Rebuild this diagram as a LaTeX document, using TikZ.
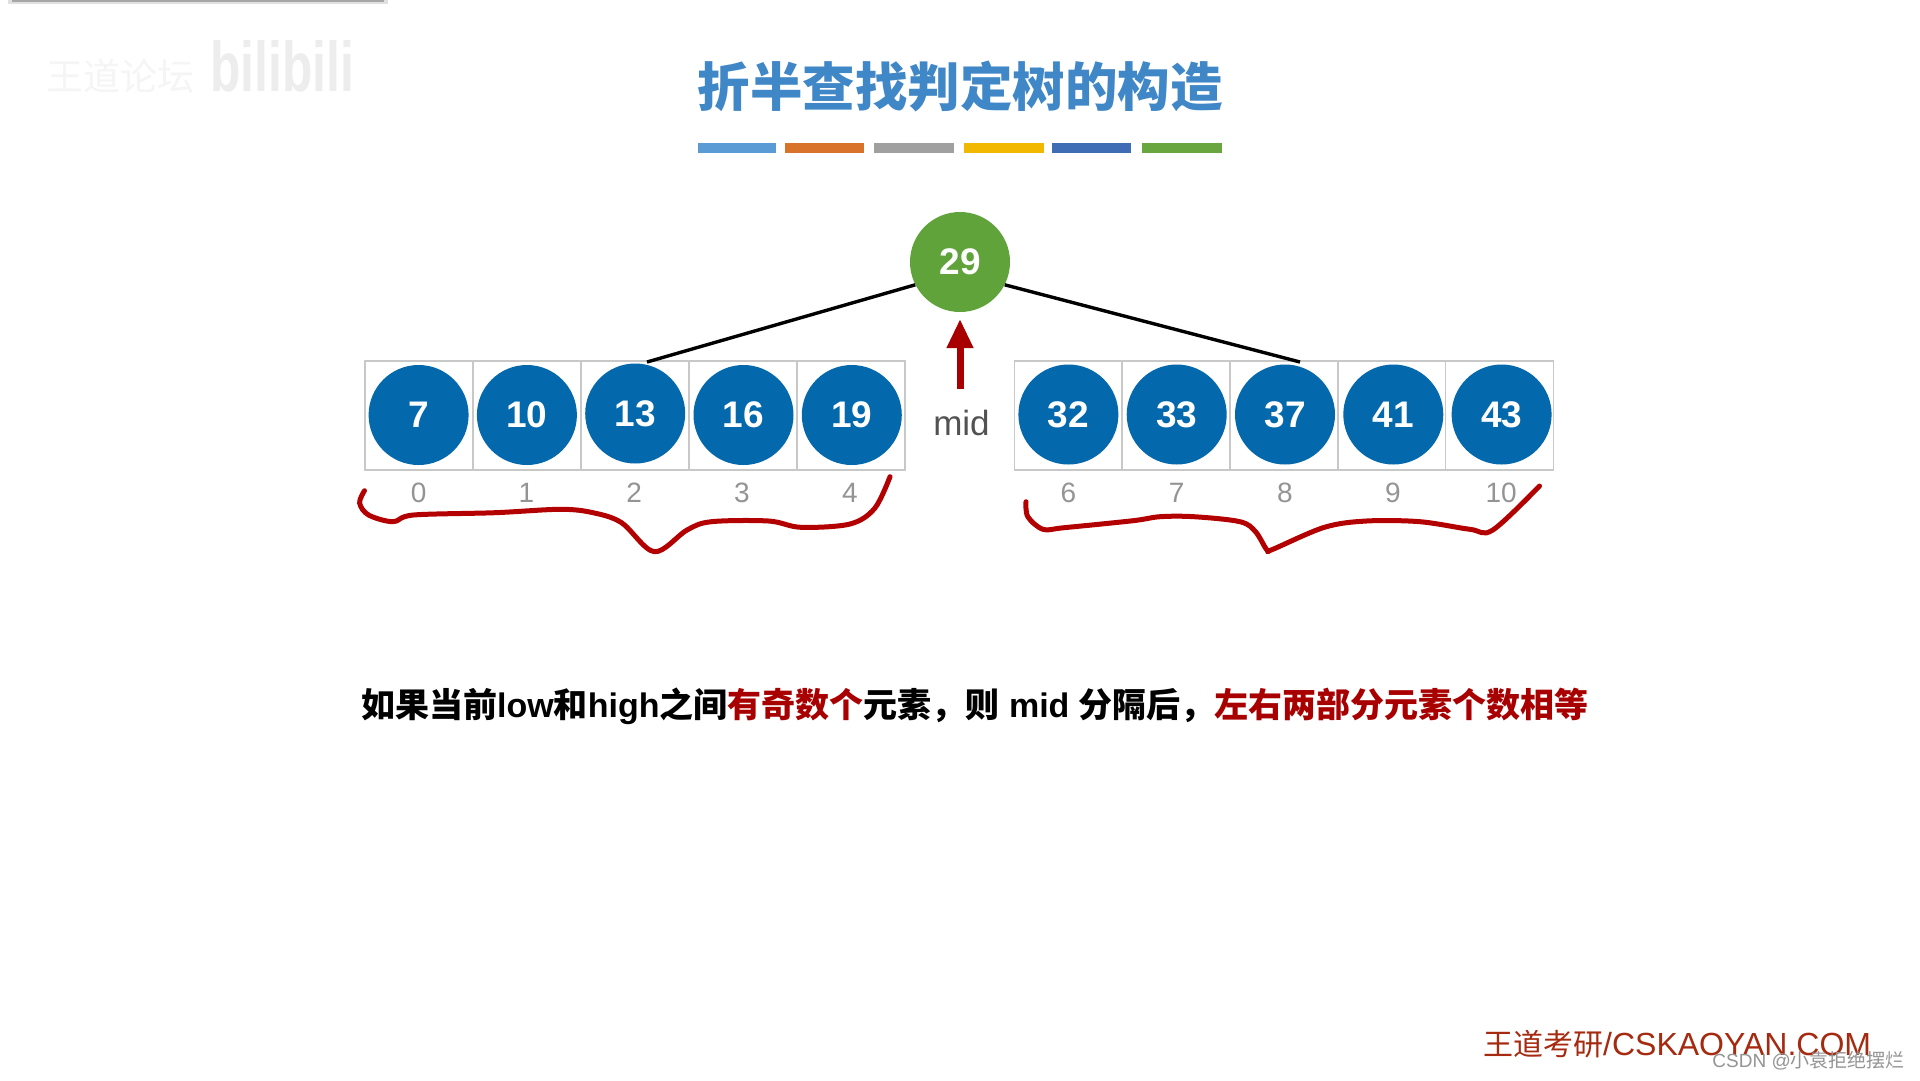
\documentclass[tikz,border=0pt]{standalone}
\usepackage{fontspec}
\setmainfont{Liberation Sans}
\newfontfamily\cjk{Noto Sans CJK SC}
\usetikzlibrary{arrows.meta}
\definecolor{cellgray}{HTML}{C8C8C8}
\definecolor{numblue}{HTML}{0368AC}
\definecolor{rootgreen}{HTML}{5FA33A}
\definecolor{titleblue}{HTML}{3F87C7}
\definecolor{markred}{HTML}{B30000}
\definecolor{textred}{HTML}{A80000}
\definecolor{footred}{HTML}{A52A10}
\tikzset{
  cellbox/.style={draw=cellgray,line width=1.5pt,minimum width=108pt,minimum height=109pt,inner sep=0pt,fill=white},
  numdot/.style={circle,fill=numblue,minimum size=100pt,inner sep=0pt,text=white,font=\fontsize{37}{37}\selectfont\bfseries},
  rootdot/.style={circle,fill=rootgreen,minimum size=100pt,inner sep=0pt,text=white,font=\fontsize{37}{37}\selectfont\bfseries},
  idxlabel/.style={text=black!42,inner sep=0pt,font=\fontsize{28}{28}\selectfont},
  treeline/.style={line width=3.4pt,draw=black},
  inkstroke/.style={draw=markred,line width=5pt,line cap=round,line join=round}
}
\begin{document}
\begin{tikzpicture}[x=1pt,y=-1pt]
\useasboundingbox (0,0) rectangle (1920,1080);
\fill[white] (0,0) rectangle (1920,1080);
% top-left remnants
\fill[black!12] (8,0) rectangle (388,4);
\fill[black!35] (12,0) rectangle (384,2);
\node[text=black!4,inner sep=0pt,font=\cjk\fontsize{37}{37}\selectfont] (wm1) at (120,76) {王道论坛};
\node[text=black!7,inner sep=0pt,xscale=1.13,yscale=1.6,font=\fontsize{44}{44}\selectfont\bfseries] (wm2) at (282,66) {bilibili};
% title
\node[text=titleblue,inner sep=0pt,font=\cjk\fontsize{52.5}{52.5}\selectfont\bfseries] (title) at (960,86) {折半查找判定树的构造};
\foreach \xa/\xb/\co in {698/776/5B9BD5,785/864/D9722A,874/954/A0A0A0,964/1044/F2B800,1052/1131/3E6DB5,1142/1222/6AA63F}{
  \definecolor{barc}{HTML}{\co}
  \fill[barc] (\xa,143) rectangle (\xb,153);
}
% left row
\foreach \i/\val/\idx/\cy in {0/7/0/415,1/10/1/415,2/13/2/413.5,3/16/3/415,4/19/4/415}{
  \node[cellbox] (lc\i) at ({419+108*\i},415.5) {};
  \node[numdot] (ln\i) at ({418.6+108.3*\i},\cy) {\val};
  \node[idxlabel] (li\i) at ({418.6+107.8*\i},492.5) {\idx};
}
% right row
\foreach \i/\val/\idx in {0/32/6,1/33/7,2/37/8,3/41/9,4/43/10}{
  \node[cellbox] (rc\i) at ({1068.4+107.8*\i},415.5) {};
  \node[numdot] (rn\i) at ({1068.4+108.3*\i},414.5) {\val};
  \node[idxlabel] (ri\i) at ({1068.4+108.2*\i},492.5) {\idx};
}
% root and branches
\node[rootdot] (root) at (960,262) {29};
\coordinate (lend) at (647,362);
\coordinate (rend) at (1300,362);
\draw[treeline] (root.207) -- (lend);
\draw[treeline] (root.333) -- (rend);
% mid arrow
\coordinate (mtail) at (960,389);
\coordinate (mhead) at (960,319);
\draw[draw=textred,line width=7pt,-{Triangle[length=29pt,width=25pt,fill=textred]}] (mtail) -- (mhead);
\node[text=black!68,inner sep=0pt,font=\fontsize{35}{35}\selectfont] (midlabel) at (961.5,423) {mid};
% hand-drawn braces
\draw[inkstroke] plot[smooth,tension=0.55] coordinates {(364.5,490.7) (359.6,503) (368.6,515) (393,521.7) (413.5,515) (495,512.7) (560.4,509.3) (593,512.7) (621.6,522.7) (654.3,551.7) (687,530) (711.4,521.7) (768.6,521) (801,527.3) (850,524) (874.7,508.3) (890,476.7)};
\draw[inkstroke] plot[smooth,tension=0.55] coordinates {(1026,501.7) (1027.8,516.7) (1043,529.3) (1064,527.7) (1133,520.7) (1160,516.7) (1194,516.7) (1240,521.7) (1255.5,531.7) (1267,550) (1272.8,549.3) (1324.4,527.3) (1366.5,521) (1420,521.7) (1470,529.3) (1492.8,530) (1539.5,486)};
% statement
\node[anchor=west,inner sep=0pt,font=\fontsize{34}{34}\selectfont\bfseries] (stmt) at (361,706.5)
 {{\cjk 如果当前}low{\cjk 和}high{\cjk 之间}\textcolor{textred}{\cjk 有奇数个}{\cjk 元素，则} mid {\cjk 分隔后，}\textcolor{textred}{\cjk 左右两部分元素个数相等}};
% footer
\node[anchor=west,text=footred,inner sep=0pt,font=\fontsize{32}{32}\selectfont] (foot) at (1483,1044) {{\cjk\fontsize{30}{30}\selectfont 王道考研}/CSKAOYAN.COM};
\node[anchor=east,text=black!42,inner sep=0pt,font=\fontsize{19}{19}\selectfont] (csdn) at (1905,1061) {CSDN @{\cjk 小袁拒绝摆烂}};
\end{tikzpicture}
\end{document}
